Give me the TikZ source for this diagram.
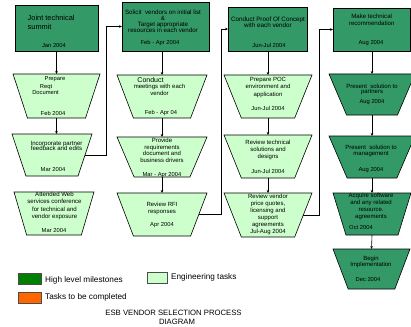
\documentclass[tikz,border=0pt]{standalone}
\usepackage{fontspec}
\setmainfont{Liberation Sans}
\usetikzlibrary{shapes.geometric,arrows.meta}
\definecolor{dkgreen}{HTML}{339966}
\definecolor{ltgreen}{HTML}{CCFFCC}
\definecolor{lggreen}{HTML}{008000}
\definecolor{orng}{HTML}{FF6600}
\tikzset{
  mile/.style={draw=black, fill=dkgreen, line width=0.6pt, inner sep=0, outer sep=0},
  trap/.style={trapezium, trapezium stretches=true, shape border rotate=180, draw=black, line width=0.6pt, inner sep=1pt, outer sep=0},
  eng/.style={trap, fill=ltgreen},
  mtrap/.style={trap, fill=dkgreen},
  txt/.style={inner sep=0, align=center, font=\fontsize{5.8}{6.6}\selectfont},
  btxt/.style={inner sep=0, align=center, font=\fontsize{6.3}{6.4}\selectfont},
  conn/.style={draw=black, line width=0.6pt, -{Stealth[length=3pt,width=2.6pt]}},
  legbox/.style={draw=black!70, line width=0.5pt, minimum width=23, minimum height=11, inner sep=0},
  legtxt/.style={inner sep=0, anchor=west, font=\fontsize{8.2}{9}\selectfont},
}
\begin{document}
\begin{tikzpicture}[x=1pt, y=-1pt]
\useasboundingbox (0,0) rectangle (411,326);

% milestone boxes
\node[mile, minimum width=83, minimum height=46] (B1) at (56.5,28) {};
\node[mile, minimum width=87, minimum height=49] (B2) at (165.5,26.5) {};
\node[mile, minimum width=79, minimum height=44] (B3) at (267.5,29) {};
\node[mile, minimum width=77, minimum height=43] (B4) at (371.5,29.5) {};

% column 1
\node[eng, minimum width=87, minimum height=44, trapezium angle=76] (T11) at (56.5,96) {};
\node[eng, minimum width=80, minimum height=42, trapezium angle=75] (T12) at (52,155) {};
\node[eng, minimum width=80, minimum height=43, trapezium angle=77] (T13) at (54,213.5) {};
% column 2
\node[eng, minimum width=90, minimum height=43, trapezium angle=74] (T21) at (162,96.5) {};
\node[eng, minimum width=90, minimum height=40, trapezium angle=73] (T22) at (162,157) {};
\node[eng, minimum width=90, minimum height=43, trapezium angle=74] (T23) at (162,214.5) {};
% column 3
\node[eng, minimum width=88, minimum height=43, trapezium angle=72] (T31) at (268,96.5) {};
\node[eng, minimum width=88, minimum height=43, trapezium angle=72] (T32) at (268,156.5) {};
\node[eng, minimum width=88, minimum height=44, trapezium angle=72] (T33) at (268,215) {};
% column 4
\node[mtrap, minimum width=86, minimum height=41, trapezium angle=71] (T41) at (372,94.5) {};
\node[mtrap, minimum width=86, minimum height=42, trapezium angle=70] (T42) at (372,157) {};
\node[mtrap, minimum width=78, minimum height=42, trapezium angle=76] (T43) at (372,214) {};
\node[mtrap, minimum width=77, minimum height=40, trapezium angle=72] (T44) at (371.5,269) {};

% arrows within columns
\draw[conn] (B1.south) -- (B1.south |- T11.north);
\draw[conn] (T11.south) -- (T11.south |- T12.north);
\draw[conn] (B2.south -| T21.north) -- (T21.north);
\draw[conn] (T21.south) -- (T22.north);
\draw[conn] (T22.south) -- (T23.north);
\draw[conn] (B3.south -| T31.north) -- (T31.north);
\draw[conn] (T31.south) -- (T32.north);
\draw[conn] (T32.south) -- (T33.north);
\draw[conn] (B4.south -| T41.north) -- (T41.north);
\draw[conn] (T41.south) -- (T42.north);
\draw[conn] (T42.south) -- (T43.north);
\draw[conn] (T43.south) -- (T44.north);

% elbow connectors between columns
\coordinate (k1) at (106,0);
\coordinate (k2) at (221,0);
\coordinate (k3) at (319,0);
\draw[conn] (T12.east) -| (k1 |- B2.west) -- (B2.west);
\draw[conn] (T23.east) -| (k2 |- B3.west) -- (B3.west);
\draw[conn] (T33.east) -| (k3 |- B4.west) -- (B4.west);

% texts: boxes
\node[inner sep=0, anchor=west, align=left, font=\fontsize{7.4}{8.4}\selectfont] (b1t) at (27.5,22.5) {Joint technical\\summit};
\node[txt] (b1d) at (54,45.7) {Jan 2004};
\node[btxt, font=\fontsize{6.2}{6}\selectfont] (b2t) at (163,21) {Solicit\ \ vendors on initial list\\\&\\Target appropriate\\resources in each vendor};
\node[txt] (b2d) at (160,43) {Feb - Apr 2004};
\node[btxt] (b3t) at (268,22.2) {Conduct Proof Of Concept\\with each vendor};
\node[txt] (b3d) at (269,45.7) {Jun-Jul 2004};
\node[btxt, font=\fontsize{6.1}{6.6}\selectfont] (b4t) at (371.7,20) {Make technical\\recommendation};
\node[txt] (b4d) at (371,43.3) {Aug 2004};

% texts: column 1
\node[txt] (t11a) at (55,79.5) {Prepare};
\node[txt] (t11b) at (46,87.5) {Reqt};
\node[txt] (t11c) at (45.5,92.8) {Document};
\node[txt] (t11d) at (53,113.3) {Feb 2004};
\node[txt, font=\fontsize{6.1}{5.7}\selectfont] (t12a) at (56.5,146) {Incorporate partner\\feedback and edits};
\node[txt] (t12d) at (53,170) {Mar 2004};
\node[txt, font=\fontsize{6.1}{7.2}\selectfont] (t13a) at (54.5,206) {Attended Web\\services conference\\for technical and\\vendor exposure};
\node[txt] (t13d) at (54,230) {Mar 2004};

% texts: column 2
\node[txt, font=\fontsize{7}{7}\selectfont] (t21a) at (150.5,80) {Conduct};
\node[txt, font=\fontsize{6}{7}\selectfont] (t21b) at (159.5,89.5) {meetings with each\\vendor};
\node[txt] (t21d) at (161,113) {Feb - Apr 04};
\node[txt, font=\fontsize{6}{6.8}\selectfont] (t22a) at (162,150.3) {Provide\\requirements\\document and\\business drivers};
\node[txt] (t22d) at (162,175) {Mar - Apr 2004};
\node[txt, font=\fontsize{6}{6.7}\selectfont] (t23a) at (162,208.3) {Review RFI\\responses};
\node[txt] (t23d) at (162,225) {Apr 2004};

% texts: column 3
\node[txt, font=\fontsize{6}{7.5}\selectfont] (t31a) at (268,87.5) {Prepare POC\\environment and\\application};
\node[txt] (t31d) at (268,108.3) {Jun-Jul 2004};
\node[txt, font=\fontsize{6}{7}\selectfont] (t32a) at (268,150.3) {Review technical\\solutions and\\designs};
\node[txt] (t32d) at (268,171) {Jun-Jul 2004};
\node[txt, font=\fontsize{6}{6.9}\selectfont] (t33a) at (268,214.5) {Review vendor\\price quotes,\\licensing and\\support\\agreements\\Jul-Aug 2004};

% texts: column 4
\node[txt, font=\fontsize{6}{5.4}\selectfont] (t41a) at (372,89.2) {Present\ \ solution to\\partners};
\node[txt] (t41d) at (372,101.7) {Aug 2004};
\node[txt, font=\fontsize{6}{5.4}\selectfont] (t42a) at (371,150.8) {Present\ \ solution to\\management};
\node[txt] (t42d) at (371,170) {Aug 2004};
\node[txt, font=\fontsize{6}{6.9}\selectfont] (t43a) at (371,206.4) {Acquire software\\and any related\\resource.\\agreements};
\node[txt] (t43d) at (361,227.3) {Oct 2004};
\node[txt, font=\fontsize{6}{6}\selectfont] (t44a) at (371,262) {Begin\\Implementation};
\node[txt] (t44d) at (368,279.3) {Dec 2004};

% legend
\node[legbox, fill=lggreen] (L1) at (29.5,278.5) {};
\node[legtxt] (L1t) at (45,280) {High level milestones};
\node[legbox, fill=ltgreen, minimum width=20] (L2) at (157,277.5) {};
\node[legtxt] (L2t) at (171,277) {Engineering tasks};
\node[legbox, fill=orng] (L3) at (29.5,297.5) {};
\node[legtxt] (L3t) at (45,297) {Tasks to be completed};

% title
\node[inner sep=0, font=\fontsize{7.7}{9}\selectfont] (title1) at (173.5,313) {ESB VENDOR SELECTION PROCESS};
\node[inner sep=0, font=\fontsize{7.7}{9}\selectfont] (title2) at (177,322) {DIAGRAM};
\end{tikzpicture}
\end{document}
